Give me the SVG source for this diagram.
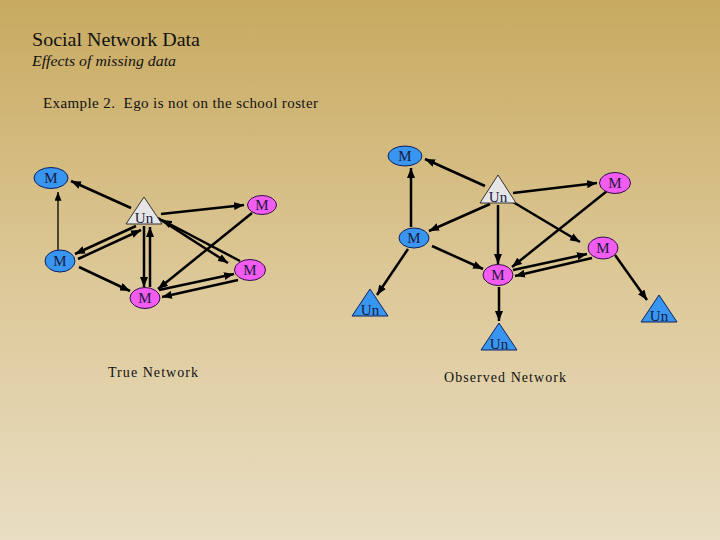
<svg xmlns="http://www.w3.org/2000/svg" width="720" height="540" viewBox="0 0 720 540">
<defs>
<linearGradient id="bg" x1="0" y1="0" x2="0" y2="1">
<stop offset="0" stop-color="#c8aa60"/>
<stop offset="0.5" stop-color="#dcc796"/>
<stop offset="1" stop-color="#e9dec3"/>
</linearGradient>
<marker id="ah" viewBox="0 0 10 8" refX="10" refY="4" markerWidth="10" markerHeight="8" markerUnits="userSpaceOnUse" orient="auto">
<path d="M0,0 L10,4 L0,8 Z" fill="#000"/>
</marker>
<marker id="ahs" viewBox="0 0 10 8" refX="10" refY="4" markerWidth="9" markerHeight="7" markerUnits="userSpaceOnUse" orient="auto">
<path d="M0,0 L10,4 L0,8 Z" fill="#000"/>
</marker>
</defs>
<style>
.e{stroke:#000;stroke-width:2.5;fill:none}
.t{stroke:#000;stroke-width:1.3;fill:none}
.blue{fill:#3896f0;stroke:#10205a;stroke-width:1}
.mag{fill:#f25cf0;stroke:#30104a;stroke-width:1}
.gray{fill:#e6e6e6;stroke:#333;stroke-width:1}
.lbl{font-family:"Liberation Serif","Times New Roman",serif;font-size:15px;fill:#1a1a40;text-anchor:middle}
.cap{font-family:"Liberation Serif","Times New Roman",serif;fill:#111}
</style>
<rect width="720" height="540" fill="url(#bg)"/>
<text class="cap" x="32" y="46" font-size="19" textLength="168" lengthAdjust="spacingAndGlyphs">Social Network Data</text>
<text class="cap" x="32" y="66" font-size="15.5" font-style="italic" textLength="144" lengthAdjust="spacingAndGlyphs">Effects of missing data</text>
<text class="cap" x="43" y="108" font-size="15" xml:space="preserve" textLength="275" lengthAdjust="spacing">Example 2.  Ego is not on the school roster</text>
<text class="cap" x="108" y="377" font-size="14" textLength="90" lengthAdjust="spacing">True Network</text>
<text class="cap" x="444" y="382" font-size="14" textLength="122" lengthAdjust="spacing">Observed Network</text>

<g id="connectors">
<!-- left network -->
<line class="e" x1="131" y1="208" x2="71" y2="181" marker-end="url(#ah)"/>
<line class="t" x1="58" y1="250" x2="58" y2="192" marker-end="url(#ahs)"/>
<line class="e" x1="136" y1="226" x2="75" y2="254" marker-end="url(#ah)"/>
<line class="e" x1="78" y1="259" x2="141" y2="230" marker-end="url(#ah)"/>
<line class="e" x1="79" y1="267" x2="130" y2="291" marker-end="url(#ah)"/>
<line class="e" x1="144" y1="226" x2="144" y2="287" marker-end="url(#ah)"/>
<line class="e" x1="150" y1="287" x2="150" y2="227" marker-end="url(#ah)"/>
<line class="e" x1="161" y1="214" x2="244" y2="205" marker-end="url(#ah)"/>
<line class="e" x1="252" y1="213" x2="158" y2="289" marker-end="url(#ah)"/>
<line class="e" x1="158" y1="218" x2="228" y2="263" marker-end="url(#ah)"/>
<line class="e" x1="240" y1="261" x2="162" y2="220" marker-end="url(#ah)"/>
<line class="e" x1="159" y1="290" x2="234" y2="274" marker-end="url(#ah)"/>
<line class="e" x1="238" y1="280" x2="162" y2="297" marker-end="url(#ah)"/>
<!-- right network -->
<line class="e" x1="485" y1="186" x2="425" y2="159" marker-end="url(#ah)"/>
<line class="e" x1="411" y1="227" x2="411" y2="168" marker-end="url(#ah)"/>
<line class="e" x1="490" y1="204" x2="429" y2="231" marker-end="url(#ah)"/>
<line class="e" x1="432" y1="246" x2="483" y2="269" marker-end="url(#ah)"/>
<line class="e" x1="498" y1="205" x2="498" y2="264" marker-end="url(#ah)"/>
<line class="e" x1="408" y1="249" x2="377" y2="295" marker-end="url(#ah)"/>
<line class="e" x1="513" y1="193" x2="597" y2="183" marker-end="url(#ah)"/>
<line class="e" x1="607" y1="191" x2="512" y2="267" marker-end="url(#ah)"/>
<line class="e" x1="513" y1="202" x2="580" y2="242" marker-end="url(#ah)"/>
<line class="e" x1="513" y1="270" x2="587" y2="254" marker-end="url(#ah)"/>
<line class="e" x1="592" y1="258" x2="515" y2="276" marker-end="url(#ah)"/>
<line class="e" x1="615" y1="255" x2="647" y2="300" marker-end="url(#ah)"/>
<line class="e" x1="499" y1="287" x2="499" y2="321" marker-end="url(#ah)"/>
</g>

<!-- left network nodes -->
<g id="L_M_top"><ellipse class="blue" cx="51" cy="178" rx="17" ry="10.5"/><text class="lbl" x="51" y="183">M</text></g>
<g id="L_M_mid"><ellipse class="blue" cx="60" cy="261" rx="15" ry="11"/><text class="lbl" x="60" y="266">M</text></g>
<g id="L_Un"><polygon class="gray" points="144,197 126,224 162,224"/><text class="lbl" x="144" y="223">Un</text></g>
<g id="L_M_bot"><ellipse class="mag" cx="145" cy="298" rx="15" ry="10.5"/><text class="lbl" x="145" y="303">M</text></g>
<g id="L_M_tr"><ellipse class="mag" cx="262" cy="205" rx="14.5" ry="9.5"/><text class="lbl" x="262" y="210">M</text></g>
<g id="L_M_mr"><ellipse class="mag" cx="250" cy="270" rx="15.5" ry="10.5"/><text class="lbl" x="250" y="275">M</text></g>

<!-- right network nodes -->
<g id="R_M_top"><ellipse class="blue" cx="405" cy="156" rx="17" ry="10"/><text class="lbl" x="405" y="161">M</text></g>
<g id="R_M_mid"><ellipse class="blue" cx="414" cy="238" rx="15" ry="10"/><text class="lbl" x="414" y="243">M</text></g>
<g id="R_Un"><polygon class="gray" points="498,175 480,203 516,203"/><text class="lbl" x="498" y="202">Un</text></g>
<g id="R_M_bot"><ellipse class="mag" cx="498" cy="275" rx="15" ry="10.5"/><text class="lbl" x="498" y="280">M</text></g>
<g id="R_M_tr"><ellipse class="mag" cx="615" cy="183" rx="15.5" ry="10.5"/><text class="lbl" x="615" y="188">M</text></g>
<g id="R_M_mr"><ellipse class="mag" cx="603" cy="248" rx="15" ry="11"/><text class="lbl" x="603" y="253">M</text></g>
<g id="R_Un_left"><polygon class="blue" points="370,289 352,316 388,316"/><text class="lbl" x="370" y="315">Un</text></g>
<g id="R_Un_right"><polygon class="blue" points="659,295 641,322 677,322"/><text class="lbl" x="659" y="321">Un</text></g>
<g id="R_Un_bot"><polygon class="blue" points="499,323 481,350 517,350"/><text class="lbl" x="499" y="349">Un</text></g>
</svg>
